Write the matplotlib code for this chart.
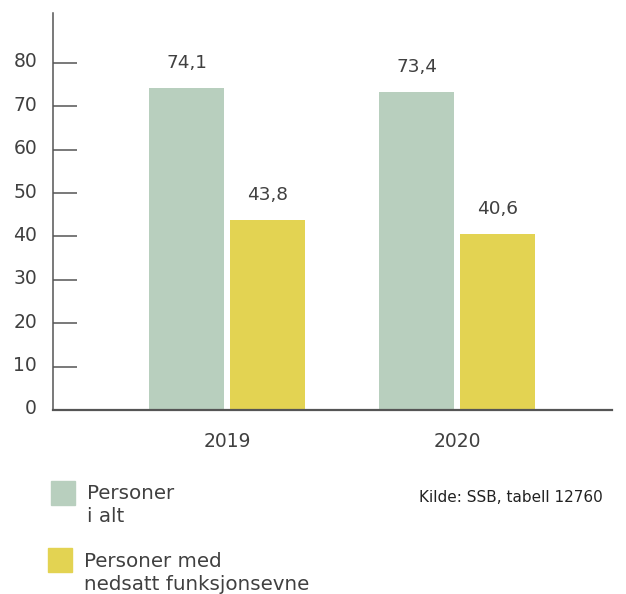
import numpy as np
import matplotlib.pyplot as plt
from matplotlib.patches import Rectangle
from matplotlib.transforms import ScaledTranslation

# Andel sysselsatte, prosent
years = ['2019', '2020']
alle = [74.1, 73.4]
nedsatt = [43.8, 40.6]
series_names = ['Personer\ni alt', 'Personer med\nnedsatt funksjonsevne']
y_ticks = [0, 10, 20, 30, 40, 50, 60, 70, 80]

green = '#b8cfbe'
yellow = '#e3d352'
text_col = '#404040'
axis_col = '#555555'

plt.rcParams['font.family'] = ['DejaVu Sans']

fig = plt.figure(figsize=(6.26, 5.94), dpi=100)
ax = fig.add_axes([53 / 626, 184 / 594, 559 / 626, 397 / 594])

x = np.arange(len(years))
w = 0.326
off = 0.176
ax.bar(x - off, alle, width=w, color=green, zorder=2)
ax.bar(x + off, nedsatt, width=w, color=yellow, zorder=2)

def fmt(v):
    return f'{v:.1f}'.replace('.', ',')

for xi, v in zip(x - off, alle):
    ax.annotate(fmt(v), (xi, v), xytext=(0, 18), textcoords='offset points',
                ha='center', va='center', fontsize=13.3, color=text_col)
for xi, v in zip(x + off, nedsatt):
    ax.annotate(fmt(v), (xi, v), xytext=(0, 18), textcoords='offset points',
                ha='center', va='center', fontsize=13.3, color=text_col)

ax.set_xlim(-0.757, 1.674)
ax.set_ylim(0, 91.5)
ax.set_yticks(y_ticks)
ax.set_xticks(x)
ax.set_xticklabels(years)
ax.tick_params(axis='y', direction='in', length=17.3, width=1.1, color=axis_col,
               pad=11.5, labelsize=13.5, labelcolor=text_col)
ax.tick_params(axis='x', length=0, pad=16, labelsize=13.5, labelcolor=text_col)

# lift the y labels a touch above their tick lines
lift = ScaledTranslation(0, 3 / 100, fig.dpi_scale_trans)
for lbl in ax.get_yticklabels():
    lbl.set_transform(lbl.get_transform() + lift)

for s in ['top', 'right']:
    ax.spines[s].set_visible(False)
ax.spines['left'].set_color(axis_col)
ax.spines['left'].set_linewidth(1.1)
ax.spines['bottom'].set_color(axis_col)
ax.spines['bottom'].set_linewidth(1.6)
ax.spines['bottom'].set_zorder(3)

# legend drawn by hand: square + two-line label
fig.patches.append(Rectangle((51 / 626, 1 - 505 / 594), 24 / 626, 24 / 594,
                             transform=fig.transFigure, color=green))
fig.text(87 / 626, 1 - 505 / 594, series_names[0], ha='left', va='center',
         fontsize=14.3, color=text_col, linespacing=1.25)
fig.patches.append(Rectangle((48 / 626, 1 - 572 / 594), 24 / 626, 24 / 594,
                             transform=fig.transFigure, color=yellow))
fig.text(84 / 626, 1 - 573 / 594, series_names[1], ha='left', va='center',
         fontsize=14.3, color=text_col, linespacing=1.25)

fig.text(603 / 626, 1 - 498 / 594, 'Kilde: SSB, tabell 12760', ha='right',
         va='center', fontsize=11, color='#222222',
         family=['Liberation Sans Narrow', 'DejaVu Sans'])

fig.savefig('out.png', dpi=100)
